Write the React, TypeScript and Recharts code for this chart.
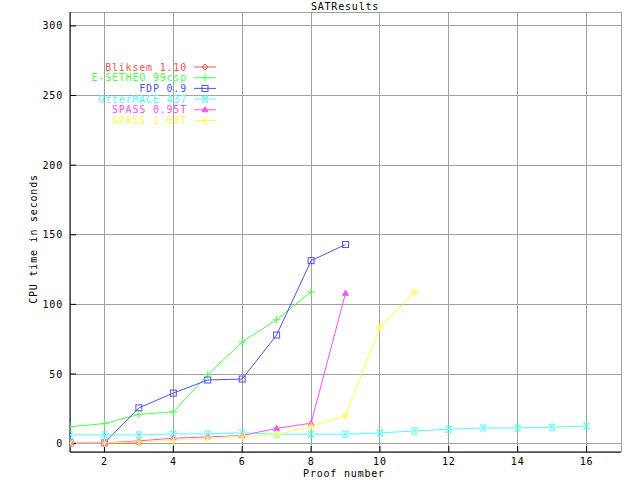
import { LineChart, Line, XAxis, YAxis, CartesianGrid, Customized } from "recharts";

// proof numbers on the x axis
const proofNumbers = [1, 2, 3, 4, 5, 6, 7, 8, 9, 10, 11, 12, 13, 14, 15, 16];

// CPU time in seconds per prover (index = proof number - 1)
const bliksem = [0.5, 0.5, 0.6];
const eSetheo = [12.2, 14.4, 21, 22.8, 49.5, 73, 89, 109];
const fdp = [0.5, 0.5, 25.7, 36.3, 45.7, 46.4, 78, 131.4, 143];
const otterMace = [6.3, 6.3, 6.3, 7, 7, 7.7, 6.8, 6.8, 6.8, 7.7, 9.1, 10.3, 11.3, 11.3, 11.8, 12.7];
const spass095 = [0.5, 0.5, 2, 3.9, 4.8, 5.8, 11, 14.7, 108];
const spass100 = [0.5, 0.5, 1.2, 2.4, 3.9, 5.3, 6.5, 12.5, 20, 83.6, 108.5];

const xTicks = [2, 4, 6, 8, 10, 12, 14, 16];
const yTicks = [0, 50, 100, 150, 200, 250, 300];

const FONT = "'DejaVu Sans Mono', monospace";
const FONT_SIZE = 10;
const SPACING = 0.8;

type Shape = "diamond" | "plus" | "square" | "xbar" | "triangle" | "star";

const series: { key: string; name: string; color: string; shape: Shape; values: number[] }[] = [
  { key: "bliksem", name: "Bliksem 1.10", color: "#ff5050", shape: "diamond", values: bliksem },
  { key: "esetheo", name: "E-SETHEO 99csp", color: "#50ff50", shape: "plus", values: eSetheo },
  { key: "fdp", name: "FDP 0.9", color: "#5050ff", shape: "square", values: fdp },
  { key: "otter", name: "OtterMACE 437", color: "#50ffff", shape: "xbar", values: otterMace },
  { key: "spass095", name: "SPASS 0.95T", color: "#ff50ff", shape: "triangle", values: spass095 },
  { key: "spass100", name: "SPASS 1.00T", color: "#ffff50", shape: "star", values: spass100 },
];

const data = proofNumbers.map((x, i) => {
  const row: Record<string, number | undefined> = { x };
  series.forEach((s) => {
    row[s.key] = s.values[i];
  });
  return row;
});

const Marker = ({ shape, cx, cy, color }: { shape: Shape; cx: number; cy: number; color: string }) => {
  const r = 3;
  const common = { fill: "none", stroke: color, strokeWidth: 1 };
  switch (shape) {
    case "diamond":
      return <path d={`M${cx - r},${cy}L${cx},${cy - r}L${cx + r},${cy}L${cx},${cy + r}Z`} {...common} />;
    case "plus":
      return <path d={`M${cx - r - 1},${cy}H${cx + r + 1}M${cx},${cy - r - 1}V${cy + r + 1}`} {...common} />;
    case "square":
      return <rect x={cx - r} y={cy - r} width={r * 2} height={r * 2} {...common} />;
    case "xbar":
      return (
        <path
          d={`M${cx - r},${cy - r}L${cx + r},${cy + r}M${cx - r},${cy + r}L${cx + r},${cy - r}M${cx - r},${cy - r}H${cx + r}M${cx - r},${cy + r}H${cx + r}`}
          {...common}
        />
      );
    case "triangle":
      return <path d={`M${cx - r},${cy + r - 1}L${cx},${cy - r}L${cx + r},${cy + r - 1}Z`} fill={color} stroke={color} />;
    case "star":
    default:
      return (
        <path
          d={`M${cx - r},${cy - r}L${cx + r},${cy + r}M${cx - r},${cy + r}L${cx + r},${cy - r}M${cx - r - 1},${cy}H${cx + r + 1}M${cx},${cy - r - 1}V${cy + r + 1}`}
          {...common}
        />
      );
  }
};

const Decorations = () => (
  <g fontFamily={FONT} fontSize={FONT_SIZE} letterSpacing={SPACING}>
    <text x={345} y={10} textAnchor="middle" fill="#000">
      SATResults
    </text>
    <text x={344} y={477} textAnchor="middle" fill="#000">
      Proof number
    </text>
    <text
      x={33}
      y={239}
      textAnchor="middle"
      dominantBaseline="central"
      transform="rotate(-90 33 239)"
      fill="#000"
    >
      CPU time in seconds
    </text>
    {series.map((s, i) => {
      const y = 67 + i * 10.7;
      return (
        <g key={s.key}>
          <text x={187} y={y + 3.5} textAnchor="end" fill={s.color}>
            {s.name}
          </text>
          <line x1={194} x2={216} y1={y} y2={y} stroke={s.color} />
          <Marker shape={s.shape} cx={205} cy={y} color={s.color} />
        </g>
      );
    })}
  </g>
);

const tickStyle = { fill: "#000", fontSize: FONT_SIZE, fontFamily: FONT, letterSpacing: SPACING };

export default function App() {
  return (
    <div style={{ position: "absolute", left: 0, top: 0, width: 640, height: 480, background: "#fff" }}>
      <LineChart width={640} height={480} data={data} margin={{ top: 12, right: 19, bottom: 0, left: 0 }}>
        <CartesianGrid
          xAxisId="bottom"
          yAxisId="left"
          stroke="#a0a0a0"
          strokeWidth={1}
          shapeRendering="crispEdges"
        />
        <XAxis
          xAxisId="bottom"
          dataKey="x"
          type="number"
          domain={[1, 17]}
          ticks={xTicks}
          allowDataOverflow
          height={28}
          tickSize={-6}
          tickMargin={12}
          tick={tickStyle}
          axisLine={{ stroke: "#000" }}
          tickLine={{ stroke: "#000" }}
        />
        <XAxis
          xAxisId="top"
          orientation="top"
          dataKey="x"
          type="number"
          domain={[1, 17]}
          ticks={xTicks}
          allowDataOverflow
          height={0}
          tickSize={-6}
          tick={false}
          axisLine={{ stroke: "#000" }}
          tickLine={{ stroke: "#000" }}
        />
        <YAxis
          yAxisId="left"
          type="number"
          domain={[-6, 310]}
          ticks={yTicks}
          allowDataOverflow
          width={70}
          tickSize={-6}
          tickMargin={13}
          tick={tickStyle}
          axisLine={{ stroke: "#000" }}
          tickLine={{ stroke: "#000" }}
        />
        <YAxis
          yAxisId="right"
          orientation="right"
          type="number"
          domain={[-6, 310]}
          ticks={yTicks}
          allowDataOverflow
          width={0}
          tickSize={-6}
          tick={false}
          axisLine={{ stroke: "#000" }}
          tickLine={{ stroke: "#000" }}
        />
        {series.map((s) => (
          <Line
            key={s.key}
            xAxisId="bottom"
            yAxisId="left"
            type="linear"
            dataKey={s.key}
            name={s.name}
            stroke={s.color}
            strokeWidth={1}
            isAnimationActive={false}
            dot={(p: any) =>
              p.cy == null || p.value == null ? (
                <g key={`${s.key}-${p.index}`} />
              ) : (
                <Marker key={`${s.key}-${p.index}`} shape={s.shape} cx={p.cx} cy={p.cy} color={s.color} />
              )
            }
            activeDot={false}
          />
        ))}
        <Customized component={Decorations} />
      </LineChart>
    </div>
  );
}
